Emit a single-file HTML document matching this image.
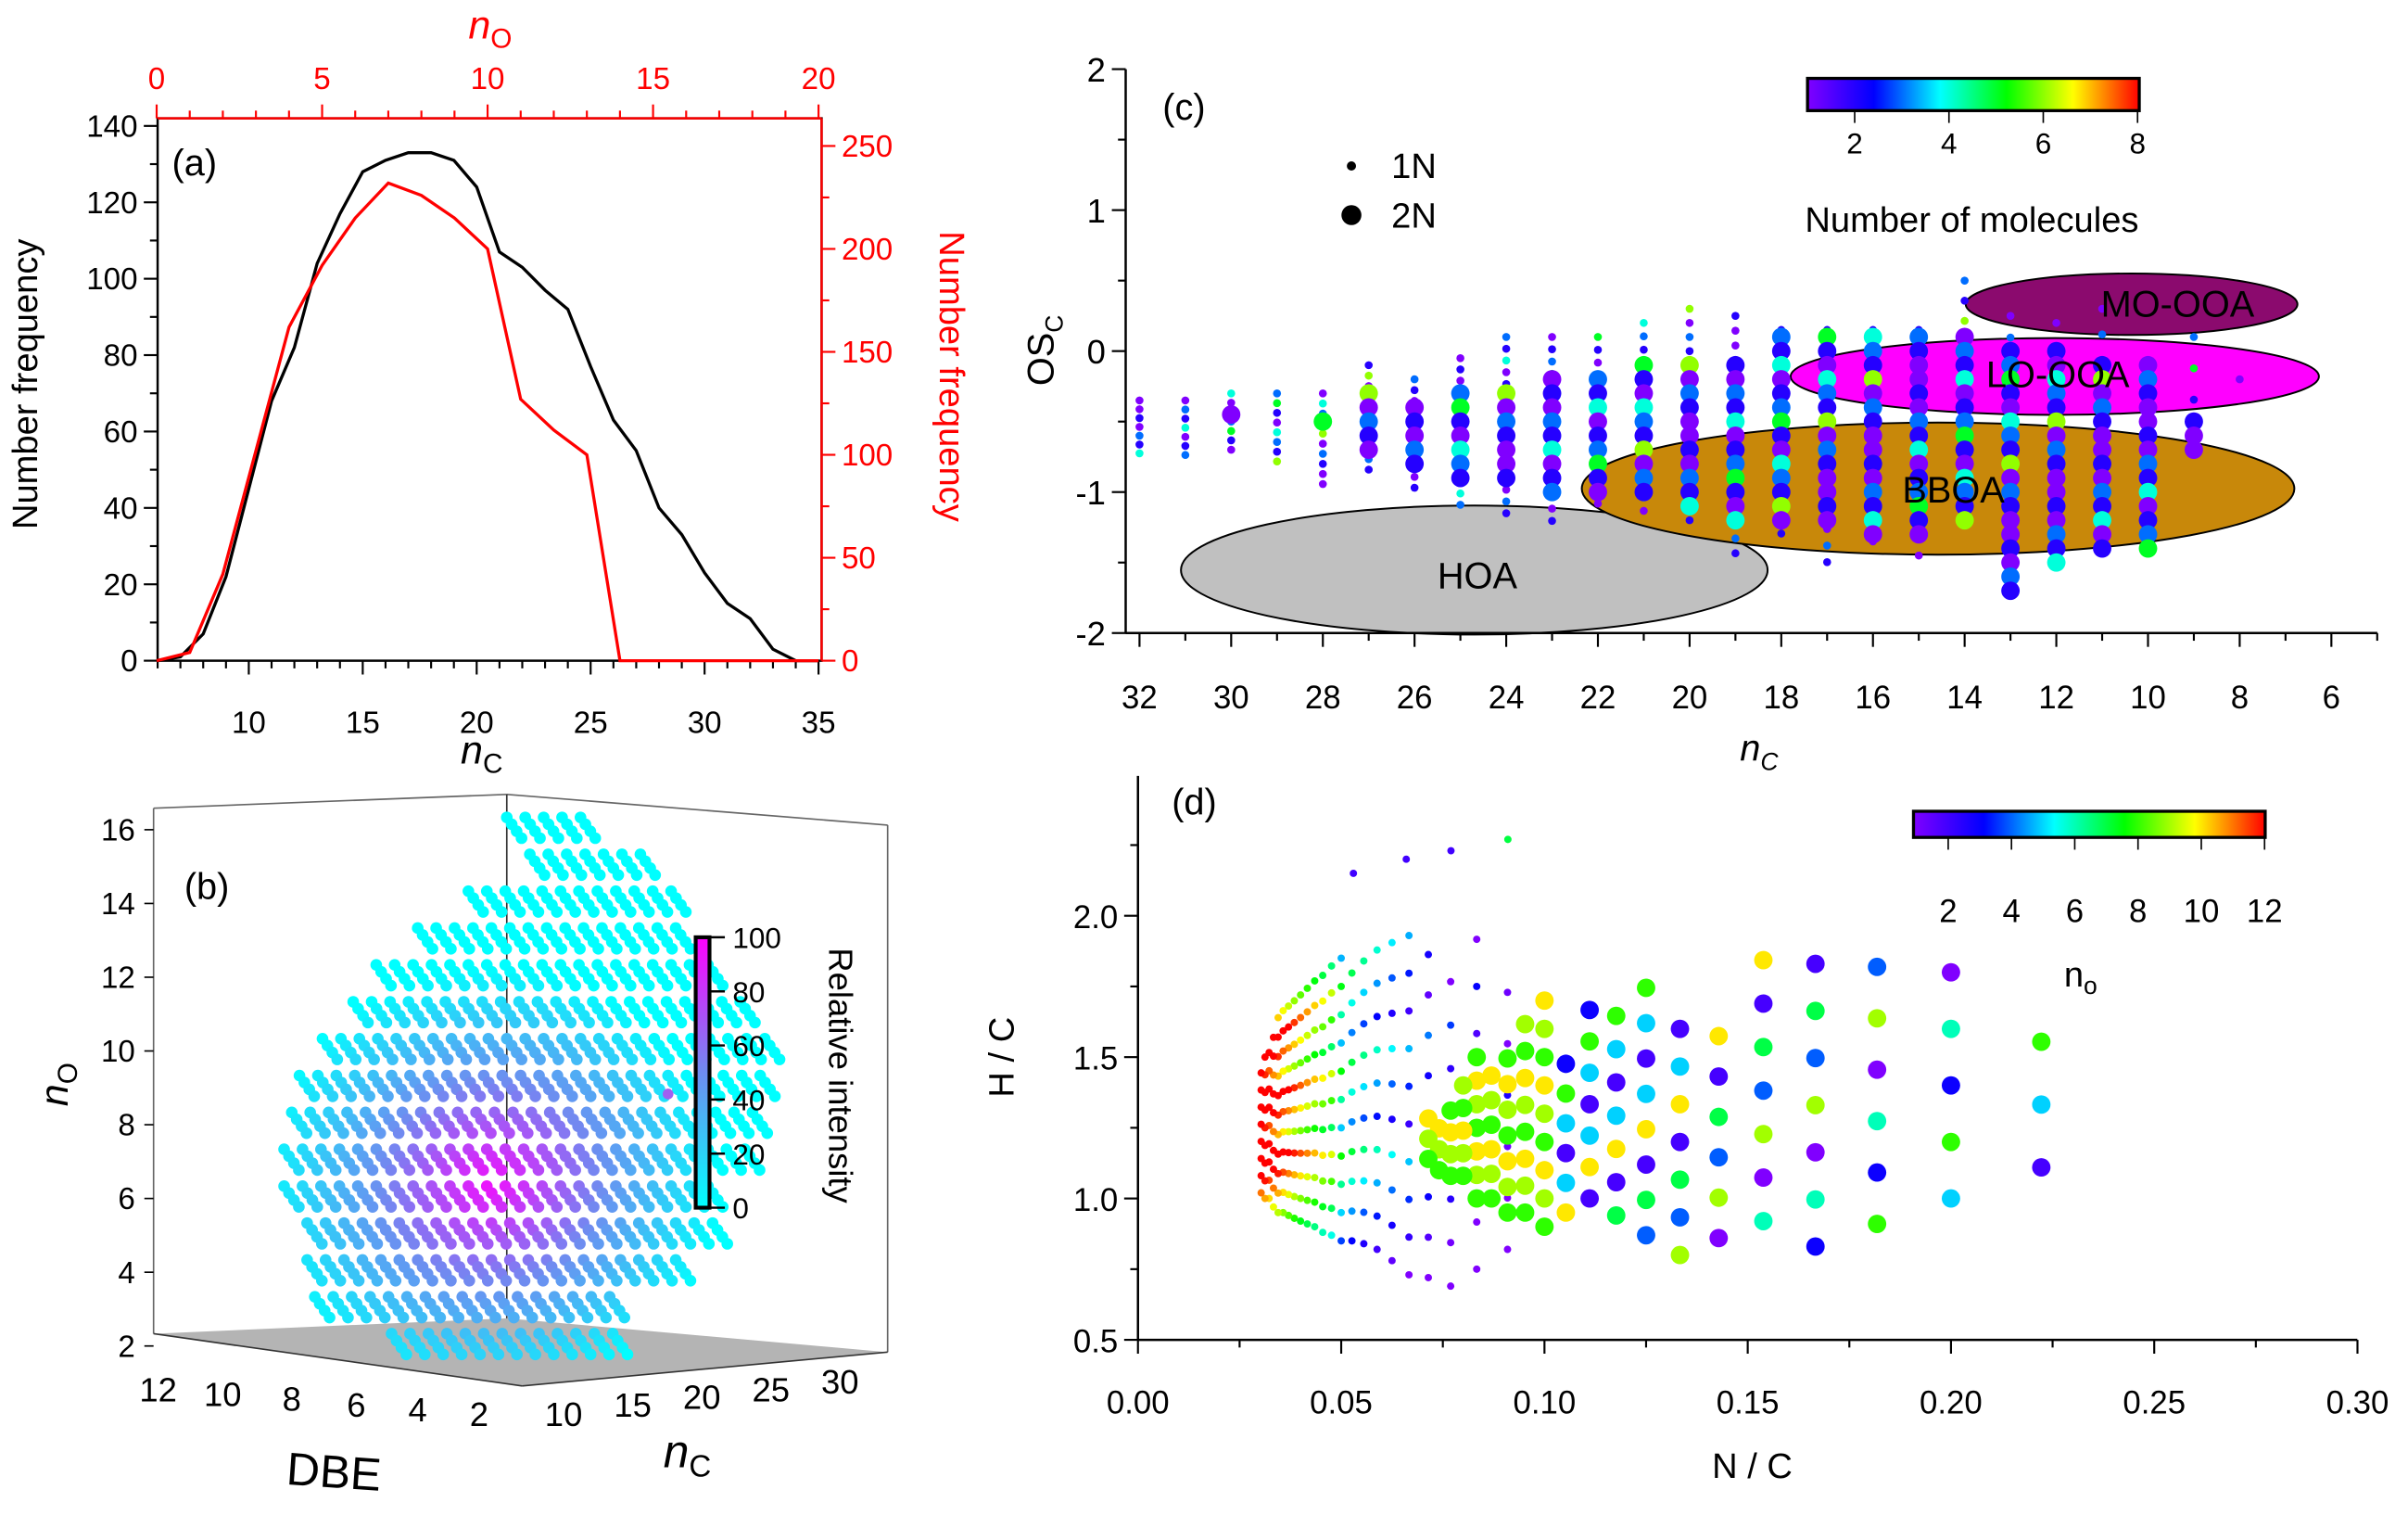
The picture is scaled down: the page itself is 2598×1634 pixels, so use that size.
<!DOCTYPE html>
<html><head><meta charset="utf-8"><style>
html,body{margin:0;padding:0;background:#fff;}
svg{display:block;font-family:"Liberation Sans",Arial,sans-serif;}
</style></head><body>
<svg id="fig" width="2598" height="1634" viewBox="0 0 1568 986" preserveAspectRatio="none" xmlns="http://www.w3.org/2000/svg">
<defs>
<linearGradient id="rainbowH" x1="0" x2="1" y1="0" y2="0">
<stop offset="0" stop-color="#8000ff"/><stop offset="0.2" stop-color="#0000ff"/><stop offset="0.4" stop-color="#00ffff"/><stop offset="0.6" stop-color="#00ff00"/><stop offset="0.8" stop-color="#ffff00"/><stop offset="1" stop-color="#ff0000"/>
</linearGradient>
<linearGradient id="cyanMag" x1="0" x2="0" y1="1" y2="0">
<stop offset="0" stop-color="#00ffff"/><stop offset="0.5" stop-color="#6f8cf0"/><stop offset="1" stop-color="#ff00ff"/>
</linearGradient>
</defs>
<g id="pa"></g>
<g id="pb"></g>
<g id="pc"></g>
<g id="pd"></g>
</svg>
<script>
// ---------- data ----------
const aNc = [6,7,8,9,10,11,12,13,14,15,16,17,18,19,20,21,22,23,24,25,26,27,28,29,30,31,32,33,34,35];
const aNcFreq = [0,1,7,22,45,68,82,104,117,128,131,133,133,131,124,107,103,97,92,77,63,55,40,33,23,15,11,3,0,0];
const aNo = [0,1,2,3,4,5,6,7,8,9,10,11,12,13,14,15,16,17,18,19,20];
const aNoFreq = [0,4,42,102,162,192,215,232,226,215,200,127,112,100,0,0,0,0,0,0,0];

const cCols = [32,31,30,29,28,27,26,25,24,23,22,21,20,19,18,17,16,15,14,13,12,11,10,9,8];
const cMax  = [-0.35,-0.35,-0.3,-0.3,-0.3,-0.1,-0.2,-0.05,0.1,0.1,0.1,0.2,0.3,0.25,0.15,0.15,0.15,0.15,0.5,0.25,0.2,0.3,-0.1,0.1,-0.2];
const cMin  = [-0.75,-0.75,-0.7,-0.8,-0.95,-0.9,-1.0,-1.1,-1.15,-1.25,-1.1,-1.15,-1.2,-1.45,-1.3,-1.5,-1.4,-1.55,-1.35,-1.7,-1.5,-1.45,-1.4,-0.7,-0.3];
const cBigMax = [null,null,-0.45,null,-0.5,-0.3,-0.4,-0.3,-0.3,-0.2,-0.2,-0.1,-0.1,-0.1,0.1,0.1,0.1,0.1,0.1,0.0,0.0,-0.1,-0.1,-0.5,null];
const cBigMin = [null,null,-0.45,null,-0.5,-0.7,-0.8,-0.9,-0.95,-1.0,-1.0,-1.0,-1.1,-1.2,-1.2,-1.25,-1.3,-1.3,-1.2,-1.7,-1.5,-1.45,-1.4,-0.7,null];

const dBigN   = [9,10,11,12,13,14,15,16,17,18,19,20,21,22,23,24,25,26,27,28];
const dBigMin = [1.11,1.0,0.91,0.83,0.92,0.86,0.8,0.87,0.94,1.0,0.95,0.9,0.95,0.95,1.0,1.0,1.08,1.08,1.1,1.14];
const dBigMax = [1.56,1.8,1.82,1.83,1.85,1.71,1.73,1.75,1.65,1.67,1.58,1.7,1.62,1.55,1.5,1.5,1.44,1.38,1.3,1.3];
const dSmN   = [11,12,13,14,15,16,17,18,19,20,21,22,23,24,25,26,27,28,29,30,31,32,33];
const dSmMin = [0.82,0.75,0.69,0.72,0.73,0.78,0.82,0.84,0.85,0.85,0.87,0.88,0.9,0.91,0.92,0.93,0.94,0.95,0.95,0.97,1.0,1.0,1.02];
const dSmMax = [1.91,1.92,1.92,1.93,1.93,1.94,1.94,1.9,1.9,1.88,1.85,1.82,1.8,1.78,1.74,1.72,1.7,1.68,1.65,1.6,1.55,1.5,1.46];
const dOut = [[0.053,2.15],[0.066,2.2],[0.077,2.23],[0.091,2.27]];

const bLevels = [16,15,14,13,12,11,10,9,8,7,6,5,4,3,2];
const bStart  = [330,345,305,272,245,230,210,195,190,185,185,200,200,205,255];
const bEnd    = [380,425,440,445,470,490,500,505,500,490,470,465,445,400,400];

// ---------- helpers ----------
const NS="http://www.w3.org/2000/svg";
function mk(parent,tag,attrs,text){const e=document.createElementNS(NS,tag);for(const k in attrs)e.setAttribute(k,attrs[k]);if(text!==undefined)e.textContent=text;parent.appendChild(e);return e;}
function rainbow(t){t=Math.max(0,Math.min(1,t));const st=[[128,0,255],[0,0,255],[0,255,255],[0,255,0],[255,255,0],[255,0,0]];const p=t*5,i=Math.min(4,Math.floor(p)),f=p-i;const a=st[i],b=st[i+1];return `rgb(${Math.round(a[0]+(b[0]-a[0])*f)},${Math.round(a[1]+(b[1]-a[1])*f)},${Math.round(a[2]+(b[2]-a[2])*f)})`;}
function cyanMag(t){const a=[0,255,255],m=[111,140,240],b=[255,0,255];let c;if(t<0.5){const f=t/0.5;c=a.map((v,i)=>v+(m[i]-v)*f);}else{const f=(t-0.5)/0.5;c=m.map((v,i)=>v+(b[i]-v)*f);}return `rgb(${c.map(Math.round).join(',')})`;}

// ---------- panel a ----------
(function(){
const g=document.getElementById('pa');
const X=n=>162+(n-10)*14.84, Xo=n=>102+n*21.55, Y=v=>430-v*2.486, Yr=v=>430-v*1.34;
const L=X(6), R=535, T=77, B=430;
mk(g,'rect',{x:L,y:T,width:R-L,height:B-T,fill:'none',stroke:'#000','stroke-width':1.5});
mk(g,'line',{x1:R,y1:T,x2:R,y2:B,stroke:'#f00','stroke-width':1.5});
mk(g,'line',{x1:L,y1:T,x2:R,y2:T,stroke:'#f00','stroke-width':1.5});
for(let n=6;n<=35;n++){const big=n%5==0;mk(g,'line',{x1:X(n),y1:B,x2:X(n),y2:B+(big?9:5),stroke:'#000','stroke-width':1.3});if(big){const t=mk(g,'text',{x:X(n),y:B+47,'font-size':20,'text-anchor':'middle'},n);}}
for(let v=0;v<=140;v+=10){const big=v%20==0;mk(g,'line',{x1:L,y1:Y(v),x2:L-(big?9:5),y2:Y(v),stroke:'#000','stroke-width':1.3});if(big){const t=mk(g,'text',{x:L-13,y:Y(v)+7,'font-size':20,'text-anchor':'end'},v);}}
for(let n=0;n<=20;n++){const big=n%5==0;mk(g,'line',{x1:Xo(n),y1:T,x2:Xo(n),y2:T-(big?9:5),stroke:'#f00','stroke-width':1.3});if(big){const t=mk(g,'text',{x:Xo(n),y:T-19,'font-size':20,'text-anchor':'middle',fill:'#f00'},n);}}
for(let v=0;v<=250;v+=25){const big=v%50==0;mk(g,'line',{x1:R,y1:Yr(v),x2:R+(big?9:5),y2:Yr(v),stroke:'#f00','stroke-width':1.3});if(big){const t=mk(g,'text',{x:R+13,y:Yr(v)+7,'font-size':20,fill:'#f00'},v);}}
let p=aNc.map((n,i)=>X(n)+','+Y(aNcFreq[i])).join(' ');
const l1=mk(g,'polyline',{points:p,fill:'none',stroke:'#000','stroke-width':2});

p=aNo.map((n,i)=>Xo(n)+','+Yr(aNoFreq[i])).join(' ');
const l2=mk(g,'polyline',{points:p,fill:'none',stroke:'#f00','stroke-width':2});

let t=mk(g,'text',{x:112,y:114,'font-size':24},'(a)');
t=mk(g,'text',{x:24,y:250,'font-size':23,transform:'rotate(-90 24 250)','text-anchor':'middle'},'Number frequency');
t=mk(g,'text',{x:612,y:245,'font-size':23,fill:'#f00',transform:'rotate(90 612 245)','text-anchor':'middle'},'Number frequency');
t=mk(g,'text',{x:300,y:497,'font-size':26});t.innerHTML='<tspan font-style="italic">n</tspan><tspan font-size="18" dy="6">C</tspan>';
t=mk(g,'text',{x:305,y:25,'font-size':26,fill:'#f00'});t.innerHTML='<tspan font-style="italic">n</tspan><tspan font-size="18" dy="6">O</tspan>';
})();

// ---------- panel b ----------
(function(){
const g=document.getElementById('pb');
const Y=v=>876-(v-2)*24;
mk(g,'polygon',{points:'100,868 330,858 578,880 340,902',fill:'#b4b4b4'});
mk(g,'line',{x1:100,y1:526,x2:100,y2:868,stroke:'#666','stroke-width':1});
mk(g,'line',{x1:100,y1:526,x2:330,y2:517,stroke:'#666','stroke-width':1});
mk(g,'line',{x1:330,y1:517,x2:578,y2:537,stroke:'#666','stroke-width':1});
mk(g,'line',{x1:578,y1:537,x2:578,y2:880,stroke:'#666','stroke-width':1});
mk(g,'line',{x1:330,y1:517,x2:330,y2:858,stroke:'#333','stroke-width':1});
mk(g,'line',{x1:100,y1:868,x2:340,y2:902,stroke:'#333','stroke-width':1});
mk(g,'line',{x1:340,y1:902,x2:578,y2:880,stroke:'#333','stroke-width':1});
for(let v=2;v<=16;v+=2){mk(g,'line',{x1:100,y1:Y(v),x2:94,y2:Y(v),stroke:'#000'});const t=mk(g,'text',{x:88,y:Y(v)+7,'font-size':20,'text-anchor':'end'},v);}
bLevels.forEach((lv,i)=>{
  const y=Y(lv);
  for(let x=bStart[i];x<=bEnd[i];x+=12){
    for(let k=0;k<4;k++){
      const px=x+k*3.2, py=y-8+k*4.5;
      const d=Math.hypot((px-320)/150,(py-770)/140);
      const c=mk(g,'circle',{cx:px,cy:py,r:3.8,fill:cyanMag(Math.max(0,0.95-d*0.95))});
      
      
    }
  }
});
mk(g,'circle',{cx:435,cy:712,r:3.5,fill:'#a060f0'});
mk(g,'rect',{x:453,y:610,width:9,height:176,fill:'url(#cyanMag)',stroke:'#000','stroke-width':2.5});
[0,20,40,60,80,100].forEach(v=>{const y=786-v*1.76;mk(g,'line',{x1:462,y1:y,x2:472,y2:y,stroke:'#000','stroke-width':1.5});const t=mk(g,'text',{x:477,y:y+7,'font-size':19},v);});
let t=mk(g,'text',{x:540,y:700,'font-size':22,transform:'rotate(90 540 700)','text-anchor':'middle'},'Relative intensity');
[[12,103,912],[10,145,915],[8,190,918],[6,232,922],[4,272,925],[2,312,928]].forEach(a=>{const t=mk(g,'text',{x:a[1],y:a[2],'font-size':22,'text-anchor':'middle'},a[0]);});
[[10,367,928],[15,412,922],[20,457,917],[25,502,912],[30,547,907]].forEach(a=>{const t=mk(g,'text',{x:a[1],y:a[2],'font-size':22,'text-anchor':'middle'},a[0]);});
t=mk(g,'text',{x:186,y:966,'font-size':30,transform:'rotate(4 186 966)'},'DBE');
t=mk(g,'text',{x:432,y:955,'font-size':30});t.innerHTML='<tspan font-style="italic">n</tspan><tspan font-size="20" dy="6">C</tspan>';
t=mk(g,'text',{x:44,y:720,'font-size':26,transform:'rotate(-90 44 720)'});t.innerHTML='<tspan font-style="italic">n</tspan><tspan font-size="18" dy="6">O</tspan>';
t=mk(g,'text',{x:120,y:585,'font-size':24},'(b)');
})();

// ---------- panel c ----------
(function(){
const g=document.getElementById('pc');
const X=n=>742+(32-n)*29.85, Y=v=>228.5-91.75*v;
const pal=[1,1,2,1,3,2,4,1,2,3,5,2,1,4,3,2,6,1,3,2];
mk(g,'ellipse',{cx:960,cy:371,rx:191,ry:42,fill:'#c0c0c0',stroke:'#000','stroke-width':1.2});
mk(g,'ellipse',{cx:1262,cy:318,rx:232,ry:43,fill:'#c8880a',stroke:'#000','stroke-width':1.2});
mk(g,'ellipse',{cx:1338,cy:245,rx:172,ry:25,fill:'#ff00ff',stroke:'#000','stroke-width':1.2});
mk(g,'ellipse',{cx:1388,cy:198,rx:108,ry:20,fill:'#8b0a6e',stroke:'#000','stroke-width':1.2});
cCols.forEach((n,i)=>{
  let k=0;
  for(let v=cMax[i];v>=cMin[i]-1e-6;v-=2/n){
    const c=mk(g,'circle',{cx:X(n),cy:Y(v),r:2.6,fill:rainbow((pal[(k+i*3)%pal.length]-1)/7)});
    
    
    k++;
  }
  if(cBigMax[i]!==null){
    for(let v=cBigMax[i];v>=cBigMin[i]-1e-6;v-=0.1){
      const c=mk(g,'circle',{cx:X(n),cy:Y(v),r:6,fill:rainbow((pal[(k+i*5)%pal.length]-1)/7)});
      
      
      k++;
    }
  }
});
[['HOA',962,383],['BBOA',1272,327],['LO-OOA',1340,252],['MO-OOA',1418,206]].forEach(a=>{const t=mk(g,'text',{x:a[1],y:a[2],'font-size':24,'text-anchor':'middle'},a[0]);});
mk(g,'line',{x1:733,y1:412,x2:1548,y2:412,stroke:'#000','stroke-width':1.5});
mk(g,'line',{x1:733,y1:45,x2:733,y2:412,stroke:'#000','stroke-width':1.5});
for(let n=32;n>=5;n--){const x=X(n);if(x>1548)continue;const big=n%2==0;mk(g,'line',{x1:x,y1:412,x2:x,y2:412+(big?9:5),stroke:'#000','stroke-width':1.3});if(big){const t=mk(g,'text',{x:x,y:461,'font-size':21,'text-anchor':'middle'},n);}}
for(let v=-2;v<=2;v+=0.5){const big=v%1==0;mk(g,'line',{x1:733,y1:Y(v),x2:733-(big?9:5),y2:Y(v),stroke:'#000','stroke-width':1.3});if(big){const t=mk(g,'text',{x:720,y:Y(v)+8,'font-size':22,'text-anchor':'end'},v);}}
let t=mk(g,'text',{x:1133,y:495,'font-size':24});t.innerHTML='<tspan font-style="italic">n</tspan><tspan font-size="16" dy="6" font-style="italic">C</tspan>';
t=mk(g,'text',{x:686,y:228,'font-size':24,transform:'rotate(-90 686 228)','text-anchor':'middle'});t.innerHTML='OS<tspan font-size="16" dy="6">C</tspan>';
t=mk(g,'text',{x:757,y:78,'font-size':24},'(c)');
mk(g,'circle',{cx:880,cy:108,r:3,fill:'#000'});
t=mk(g,'text',{x:906,y:116,'font-size':23},'1N');
mk(g,'circle',{cx:880,cy:140,r:6.5,fill:'#000'});
t=mk(g,'text',{x:906,y:148,'font-size':23},'2N');
const cb=mk(g,'rect',{x:1177,y:51,width:216,height:21,fill:'url(#rainbowH)',stroke:'#000','stroke-width':2});

[2,4,6,8].forEach(v=>{const x=1177+(v-1)*30.7;mk(g,'line',{x1:x,y1:72,x2:x,y2:80,stroke:'#000'});const t=mk(g,'text',{x:x,y:100,'font-size':19,'text-anchor':'middle'},v);});
t=mk(g,'text',{x:1284,y:151,'font-size':23,'text-anchor':'middle'},'Number of molecules');
})();

// ---------- panel d ----------
(function(){
const g=document.getElementById('pd');
const X=v=>741+v*2647, Y=v=>872-(v-0.5)*184;
const bigPal=[2,5,8,3,6,1,9,4,7,2,10,5];
dSmN.forEach((n,i)=>{
  let k=0;
  for(let v=dSmMin[i];v<=dSmMax[i]+1e-6;v+=2/n){
    const val=Math.max(1,Math.min(12,12-(i<10?(dSmN.length-i)*0.1:0)-((33-n)*0.45)+((k*1.3)%4)-1));
    const c=mk(g,'circle',{cx:X(1/n),cy:Y(v),r:2.4,fill:rainbow((val-1)/11)});
    
    
    k++;
  }
});
dOut.forEach(p=>{const c=mk(g,'circle',{cx:X(p[0]),cy:Y(p[1]),r:2.4,fill:rainbow(p[0]>0.085?0.55:0.1)});});
dBigN.forEach((n,i)=>{
  let k=0;
  for(let v=dBigMin[i];v<=dBigMax[i]+1e-6;v+=2/n){
    const val=n>=20?(8+(k%3)):bigPal[(k+i)%bigPal.length];
    const c=mk(g,'circle',{cx:X(2/n),cy:Y(v),r:6,fill:rainbow((val-1)/11)});
    
    
    k++;
  }
});
mk(g,'line',{x1:741,y1:872,x2:1535,y2:872,stroke:'#000','stroke-width':1.5});
mk(g,'line',{x1:741,y1:505,x2:741,y2:872,stroke:'#000','stroke-width':1.5});
for(let v=0;v<=0.3001;v+=0.025){const big=Math.round(v*1000)%50==0;mk(g,'line',{x1:X(v),y1:872,x2:X(v),y2:872+(big?9:5),stroke:'#000','stroke-width':1.3});if(big){const t=mk(g,'text',{x:X(v),y:920,'font-size':21,'text-anchor':'middle'},v.toFixed(2));}}
for(let v=0.5;v<=2.45;v+=0.25){const big=Math.round(v*100)%50==0;mk(g,'line',{x1:741,y1:Y(v),x2:741-(big?9:5),y2:Y(v),stroke:'#000','stroke-width':1.3});if(big){const t=mk(g,'text',{x:728,y:Y(v)+8,'font-size':21,'text-anchor':'end'},v.toFixed(1));}}
let t=mk(g,'text',{x:1141,y:962,'font-size':23,'text-anchor':'middle'},'N / C');
t=mk(g,'text',{x:660,y:688,'font-size':23,transform:'rotate(-90 660 688)','text-anchor':'middle'},'H / C');
t=mk(g,'text',{x:763,y:530,'font-size':24},'(d)');
const cb=mk(g,'rect',{x:1246,y:528,width:229,height:17,fill:'url(#rainbowH)',stroke:'#000','stroke-width':2});

[2,4,6,8,10,12].forEach(v=>{const x=1248+(v-1)*20.6;mk(g,'line',{x1:x,y1:545,x2:x,y2:553,stroke:'#000'});const t=mk(g,'text',{x:x,y:600,'font-size':21,'text-anchor':'middle'},v);});
t=mk(g,'text',{x:1344,y:642,'font-size':23});t.innerHTML='n<tspan font-size="16" dy="5">o</tspan>';
})();
</script>
</body></html>
